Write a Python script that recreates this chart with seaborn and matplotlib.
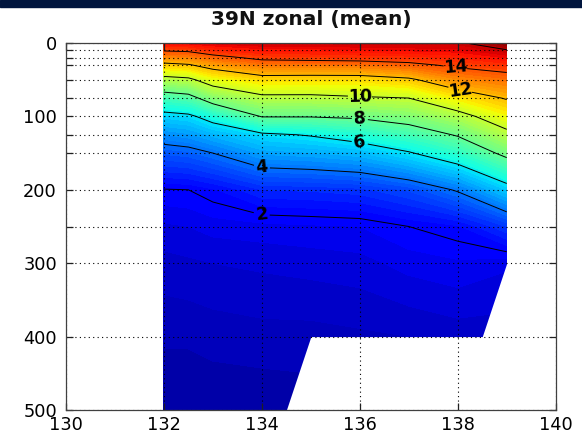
import numpy as np
import matplotlib
matplotlib.use("Agg")
import matplotlib.pyplot as plt
from matplotlib.patches import Rectangle
import seaborn as sns

# ---- data ----
lons = [132, 132.5, 133, 134, 135, 136, 137, 138, 139]
depths = [0, 10, 20, 30, 50, 75, 100, 125, 150, 200, 250, 300, 400, 500]
t132 = [15.3, 14.1, 12.9, 11.67, 9.52, 7.28, 5.6, 4.49, 3.55, 1.97, 1.45, 1.15, 0.8, 0.5]
t132h = [15.4, 14.2, 13.06, 11.89, 9.73, 7.54, 5.78, 4.67, 3.67, 2.0, 1.5, 1.2, 0.8, 0.5]
t133 = [15.6, 14.7, 13.58, 12.53, 10.7, 8.69, 6.48, 5.11, 4.0, 2.2, 1.6, 1.25, 0.85, 0.55]
t134 = [15.8, 15.1, 14.3, 13.3, 11.48, 9.68, 8.06, 5.8, 4.82, 2.75, 1.65, 1.3, 0.9, 0.55]
t135 = [15.8, 15.1, 14.4, 13.33, 11.43, 9.68, 8.06, 6.08, 4.96, 2.8, 1.7, 1.35, 0.9, 0.6]
t136 = [15.9, 15.2, 14.5, 13.38, 11.44, 9.87, 8.2, 6.58, 5.22, 2.9, 1.75, 1.4, 0.95, 0.6]
t137 = [15.9, 15.3, 14.6, 13.7, 11.79, 10.0, 8.61, 7.24, 5.9, 3.3, 2.0, 1.6, 1.0, 0.65]
t138 = [15.85, 15.4, 14.8, 14.24, 12.93, 11.19, 9.5, 8.11, 6.82, 4.1, 2.2, 1.7, 1.1, 0.7]
t139 = [16.8, 15.93, 15.27, 14.6, 13.42, 12.1, 10.88, 9.63, 8.35, 5.51, 3.0, 1.55, 1.1, 0.7]
bottom_lon = [132, 134.5, 135, 138.5, 139]
bottom_depth = [500, 500, 400, 400, 300]
line_levels = [2, 4, 6, 8, 10, 12, 14, 16]
label_levels = [2, 4, 6, 8, 10, 12, 14]
label_pos = [(134.0, 232), (134.0, 171), (136.0, 134), (136.0, 103),
             (136.0, 73), (138.05, 63), (137.95, 34)]
xticks = [130, 132, 134, 136, 138, 140]
yticks = [0, 10, 20, 30, 50, 75, 100, 125, 150, 200, 250, 300, 400, 500]
title = "39N zonal (mean)"

# ---- style ----
sns.set_theme(style="ticks")
plt.rcParams["font.family"] = ["DejaVu Sans"]
plt.rcParams.update({
    "xtick.direction": "in", "ytick.direction": "in",
    "xtick.top": True, "ytick.right": True,
    "axes.edgecolor": "#404040", "axes.linewidth": 0.9,
    "xtick.color": "#202020", "ytick.color": "#202020",
})

T = np.column_stack([t132, t132h, t133, t134, t135, t136, t137, t138, t139])
X, Y = np.meshgrid(lons, depths)
cmap = matplotlib.colormaps["jet"]

fig = plt.figure(figsize=(5.82, 4.42), dpi=100, facecolor="white")
ax = fig.add_axes([66 / 582, 1 - 410 / 442, (555.7 - 66) / 582, (410 - 43) / 442])

ax.contourf(X, Y, T, levels=np.arange(0, 17.01, 0.25), cmap=cmap,
            vmin=0, vmax=17, zorder=1, extend="both")
cs = ax.contour(X, Y, T, levels=line_levels, colors="black",
                linewidths=0.7, zorder=2)
ax.fill_between(bottom_lon, bottom_depth, 500, color="white", lw=0, zorder=1.5)

cl = ax.clabel(cs, levels=label_levels, manual=label_pos, fontsize=12.5,
               inline=True, inline_spacing=6, fmt="%d")
for t in cl:
    t.set_fontweight("bold")
    t.set_color("black")

ax.set_xlim(130, 140)
ax.set_ylim(500, 0)
ax.set_xticks(xticks)
ax.set_xticklabels([str(v) for v in xticks])
ax.set_yticks(yticks)
ax.set_yticklabels([str(v) if v % 100 == 0 else "" for v in yticks])
ax.tick_params(axis="both", labelsize=12.8, length=5, width=0.9, colors="#202020")
ax.tick_params(axis="x", pad=4.5)
ax.tick_params(axis="y", pad=6.5)
for lab in ax.get_xticklabels() + ax.get_yticklabels():
    lab.set_color("black")
ax.set_axisbelow(False)
ax.grid(True, linestyle=(0, (1, 3)), color="black", linewidth=0.8)
for s in ax.spines.values():
    s.set_zorder(5)

ax.set_title(title, fontsize=14.5, fontweight="bold", pad=13, color="#111111")

fig.add_artist(Rectangle((0, 1 - 7 / 442), 1, 7 / 442, transform=fig.transFigure,
                         color="#00153d", zorder=10))

fig.savefig("out.png", dpi=100, facecolor="white")
